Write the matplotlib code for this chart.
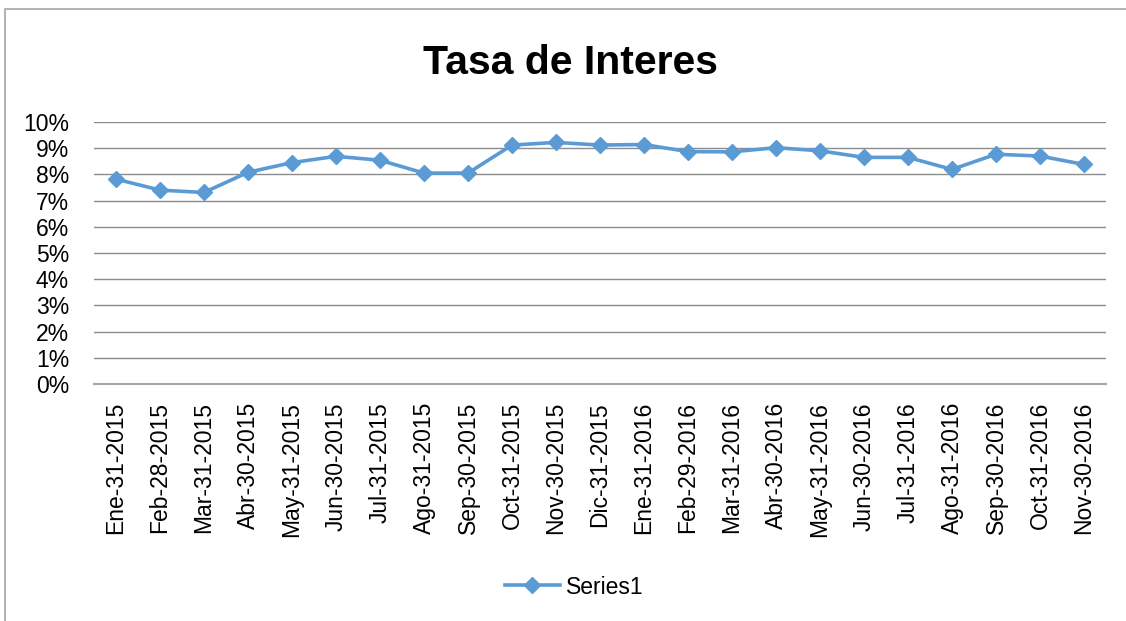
import matplotlib
matplotlib.use("Agg")
import matplotlib.pyplot as plt
from matplotlib.patches import Rectangle
from matplotlib.ticker import FuncFormatter, MultipleLocator

# ----------------------------------------------------------------------
# Data
# ----------------------------------------------------------------------
fechas = [
    "Ene-31-2015", "Feb-28-2015", "Mar-31-2015", "Abr-30-2015",
    "May-31-2015", "Jun-30-2015", "Jul-31-2015", "Ago-31-2015",
    "Sep-30-2015", "Oct-31-2015", "Nov-30-2015", "Dic-31-2015",
    "Ene-31-2016", "Feb-29-2016", "Mar-31-2016", "Abr-30-2016",
    "May-31-2016", "Jun-30-2016", "Jul-31-2016", "Ago-31-2016",
    "Sep-30-2016", "Oct-31-2016", "Nov-30-2016",
]
tasa = [
    0.0782, 0.0740, 0.0731, 0.0808, 0.0845, 0.0869, 0.0854, 0.0805,
    0.0805, 0.0912, 0.0922, 0.0912, 0.0914, 0.0887, 0.0886, 0.0902,
    0.0890, 0.0865, 0.0865, 0.0819, 0.0877, 0.0870, 0.0838,
]
serie = "Series1"
titulo = "Tasa de Interes"

BLUE = "#5B9BD5"
GRID = "#8C8C8C"
FONT = "Liberation Sans"

fig = plt.figure(figsize=(11.26, 6.21), dpi=100)
ax = fig.add_axes([94 / 1126, 1 - 384 / 621, 1012 / 1126, 262 / 621])

x = range(len(fechas))
ax.plot(x, tasa, color=BLUE, linewidth=2.6, marker="D", markersize=8.5,
        label=serie, zorder=3)

ax.set_xlim(-0.5, len(fechas) - 0.5)
ax.set_ylim(0, 0.10)
ax.yaxis.set_major_locator(MultipleLocator(0.01))
ax.yaxis.set_major_formatter(FuncFormatter(lambda v, _: f"{v * 100:.0f}%"))
ax.grid(axis="y", color=GRID, linewidth=1.0)
ax.set_axisbelow(True)

for side in ("top", "right", "left"):
    ax.spines[side].set_visible(False)
ax.spines["bottom"].set_color("#A6A6A6")
ax.spines["bottom"].set_linewidth(1.5)

ax.set_xticks(list(x))
ax.set_xticklabels(fechas, rotation=90, fontsize=16.5, family=FONT)
ax.tick_params(axis="x", length=0, pad=13)
ax.tick_params(axis="y", length=0, pad=18, labelsize=16.5)
for lbl in ax.get_yticklabels():
    lbl.set_family(FONT)

fig.text(0.507, 1 - 63 / 621, titulo, ha="center", va="center",
         fontsize=29.5, fontweight="bold", family=FONT)

leg = fig.legend(loc="center", bbox_to_anchor=(0.51, 1 - 587 / 621),
                 frameon=False, prop={"family": FONT, "size": 16.5},
                 handlelength=2.4, handletextpad=0.3)

# outer chart border
fig.patches.append(Rectangle((5 / 1126, -0.05), 1.2, 1.05 - 9 / 621,
                             transform=fig.transFigure, fill=False,
                             edgecolor="#A6A6A6", linewidth=1.2))

fig.savefig("out.png", dpi=100)
